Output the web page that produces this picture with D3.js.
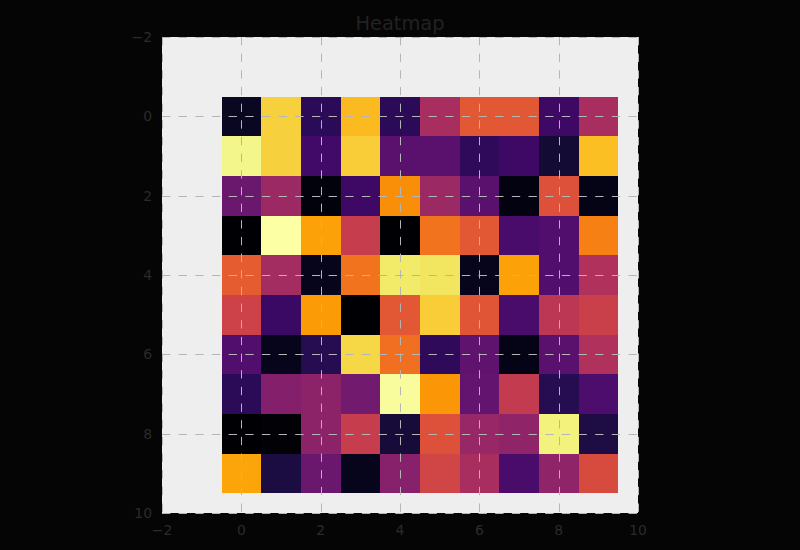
<!DOCTYPE html>
<html><head><meta charset="utf-8">
<script src="https://cdn.jsdelivr.net/npm/d3@7"></script>
<style>html,body{margin:0;padding:0;background:#050505;}svg{display:block;}</style>
</head><body>
<script>
const title = "Heatmap";
const xTicks = [-2, 0, 2, 4, 6, 8, 10];
const yTicks = [-2, 0, 2, 4, 6, 8, 10];
const row0 = [0.06, 0.89, 0.15, 0.84, 0.15, 0.45, 0.62, 0.62, 0.19, 0.45];
const row1 = [0.97, 0.89, 0.20, 0.88, 0.26, 0.26, 0.16, 0.19, 0.09, 0.85];
const row2 = [0.30, 0.42, 0.02, 0.19, 0.75, 0.42, 0.26, 0.03, 0.60, 0.04];
const row3 = [0.00, 1.00, 0.79, 0.53, 0.00, 0.69, 0.62, 0.22, 0.24, 0.72];
const row4 = [0.63, 0.44, 0.05, 0.69, 0.94, 0.93, 0.05, 0.79, 0.24, 0.47];
const row5 = [0.55, 0.18, 0.78, 0.00, 0.62, 0.88, 0.61, 0.22, 0.50, 0.54];
const row6 = [0.24, 0.05, 0.14, 0.90, 0.68, 0.16, 0.27, 0.04, 0.26, 0.47];
const row7 = [0.15, 0.36, 0.38, 0.32, 0.99, 0.77, 0.28, 0.52, 0.14, 0.23];
const row8 = [0.00, 0.01, 0.38, 0.53, 0.10, 0.60, 0.41, 0.39, 0.96, 0.12];
const row9 = [0.80, 0.11, 0.30, 0.05, 0.37, 0.56, 0.45, 0.22, 0.39, 0.58];
const rows = [row0, row1, row2, row3, row4, row5, row6, row7, row8, row9];

const W = 800, H = 550;
const svg = d3.select("body").append("svg").attr("width", W).attr("height", H);
svg.append("rect").attr("width", W).attr("height", H).attr("fill", "#050505");

const x = d3.scaleLinear().domain([-2, 10]).range([162, 638]);
const y = d3.scaleLinear().domain([-2, 10]).range([37, 513]);
const color = d3.scaleSequential(d3.interpolateInferno).domain([0, 1]);

svg.append("rect").attr("x", x(-2)).attr("y", y(-2))
  .attr("width", x(10) - x(-2)).attr("height", y(10) - y(-2)).attr("fill", "#eeeeee");

const cells = [];
rows.forEach((r, i) => r.forEach((v, j) => cells.push({i, j, v})));
svg.append("g").selectAll("rect").data(cells).join("rect")
  .attr("x", d => x(d.j - 0.5)).attr("y", d => y(d.i - 0.5))
  .attr("width", d => x(d.j + 0.5) - x(d.j - 0.5))
  .attr("height", d => y(d.i + 0.5) - y(d.i - 0.5))
  .attr("fill", d => color(d.v))
  .attr("shape-rendering", "crispEdges");

const grid = svg.append("g").attr("stroke", "#b5b5b5").attr("stroke-width", 1)
  .attr("stroke-dasharray", "8.33,8.33");
grid.selectAll("line.v").data(xTicks).join("line").attr("class", "v")
  .attr("x1", d => Math.round(x(d)) + 0.5).attr("x2", d => Math.round(x(d)) + 0.5)
  .attr("y1", y(-2)).attr("y2", y(10));
grid.selectAll("line.h").data(yTicks).join("line").attr("class", "h")
  .attr("y1", d => Math.round(y(d)) + 0.5).attr("y2", d => Math.round(y(d)) + 0.5)
  .attr("x1", x(-2)).attr("x2", x(10));

const font = "DejaVu Sans";
const fmt = d => (d < 0 ? "\u2212" + Math.abs(d) : String(d));
svg.append("g").selectAll("text").data(xTicks).join("text")
  .attr("x", d => x(d)).attr("y", 535).attr("text-anchor", "middle")
  .attr("font-family", font).attr("font-size", 13.9).attr("fill", "#2b2b2b")
  .text(fmt);
svg.append("g").selectAll("text").data(yTicks).join("text")
  .attr("x", 152).attr("y", d => y(d) + 5).attr("text-anchor", "end")
  .attr("font-family", font).attr("font-size", 13.9).attr("fill", "#2b2b2b")
  .text(fmt);

svg.append("text").attr("x", 400).attr("y", 29.5).attr("text-anchor", "middle")
  .attr("font-family", font).attr("font-size", 19.4).attr("fill", "#222222")
  .text(title);
</script>
</body></html>
